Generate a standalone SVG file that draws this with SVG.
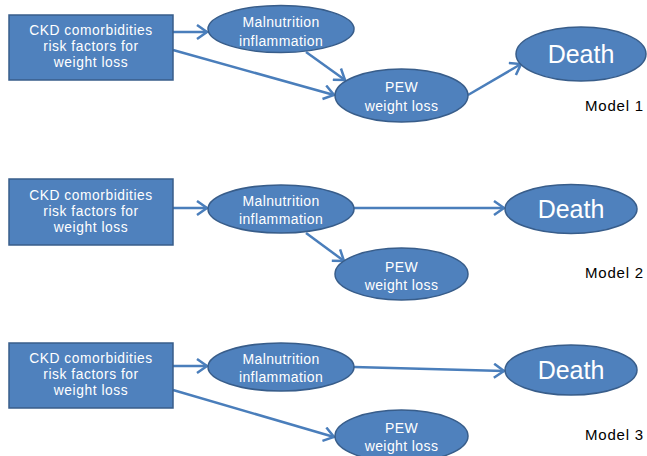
<svg xmlns="http://www.w3.org/2000/svg" width="647" height="456" viewBox="0 0 647 456">
<defs>
<marker id="ah" markerUnits="userSpaceOnUse" markerWidth="14" markerHeight="18" refX="11" refY="8" orient="auto">
<path d="M1,1 L11,8 L1,15" fill="none" stroke="#4A7EBB" stroke-width="2.5" stroke-linejoin="miter"/>
</marker>
</defs>
<style>
.box{fill:#4F81BD;stroke:#385D8A;stroke-width:1.5}
.el{fill:#4F81BD;stroke:#385D8A;stroke-width:1.5}
.t{font-family:"Liberation Sans",Arial,sans-serif;fill:#fff;text-anchor:middle}
.bt{font-size:13.8px;letter-spacing:0.55px}
.mt{font-size:14px;letter-spacing:0.4px}
.dt{font-size:25px}
.lbl{font-family:"Liberation Sans",Arial,sans-serif;font-size:15px;letter-spacing:0.8px;fill:#000}
.c{fill:none;stroke:#4A7EBB;stroke-width:2.5;marker-end:url(#ah)}
</style>
<rect width="647" height="456" fill="#fff"/>
<g id="connectors">
<line class="c" x1="173" y1="32" x2="207" y2="32"/>
<line class="c" x1="173" y1="50" x2="334" y2="95"/>
<line class="c" x1="306" y1="52" x2="345" y2="80"/>
<line class="c" x1="468" y1="95" x2="521" y2="64"/>
<line class="c" x1="173" y1="208" x2="207" y2="208"/>
<line class="c" x1="354" y1="208" x2="504" y2="208"/>
<line class="c" x1="306" y1="233" x2="344" y2="261"/>
<line class="c" x1="173" y1="366" x2="207" y2="366"/>
<line class="c" x1="354" y1="367" x2="504" y2="371"/>
<line class="c" x1="173" y1="390" x2="334" y2="437"/>
</g>
<g id="m1-ckd"><rect class="box" x="9" y="15" width="164" height="65"/>
<text class="t bt" x="91" y="35">CKD comorbidities</text><text class="t bt" x="91" y="51">risk factors for</text><text class="t bt" x="91" y="67">weight loss</text></g>
<g id="m1-mal"><ellipse class="el" cx="281" cy="29" rx="73" ry="23.5"/>
<text class="t mt" x="281" y="27">Malnutrition</text><text class="t mt" x="281" y="46">inflammation</text></g>
<g id="m1-pew"><ellipse class="el" cx="401.5" cy="95.5" rx="66.5" ry="26.5"/>
<text class="t mt" x="401.5" y="92">PEW</text><text class="t mt" x="401.5" y="111">weight loss</text></g>
<g id="m1-death"><ellipse class="el" cx="581" cy="54" rx="65" ry="27"/>
<text class="t dt" x="581" y="63">Death</text></g>
<g id="m1-label"><text class="lbl" x="585" y="111">Model 1</text></g>

<g id="m2-ckd"><rect class="box" x="9" y="179" width="164" height="66"/>
<text class="t bt" x="91" y="200">CKD comorbidities</text><text class="t bt" x="91" y="216">risk factors for</text><text class="t bt" x="91" y="232">weight loss</text></g>
<g id="m2-mal"><ellipse class="el" cx="281" cy="209" rx="73" ry="24"/>
<text class="t mt" x="281" y="206">Malnutrition</text><text class="t mt" x="281" y="224">inflammation</text></g>
<g id="m2-pew"><ellipse class="el" cx="401.5" cy="274" rx="66.5" ry="26"/>
<text class="t mt" x="401.5" y="272">PEW</text><text class="t mt" x="401.5" y="290">weight loss</text></g>
<g id="m2-death"><ellipse class="el" cx="571" cy="209" rx="66" ry="24.5"/>
<text class="t dt" x="571" y="218">Death</text></g>
<g id="m2-label"><text class="lbl" x="585" y="278">Model 2</text></g>

<g id="m3-ckd"><rect class="box" x="9" y="343" width="164" height="65"/>
<text class="t bt" x="91" y="363">CKD comorbidities</text><text class="t bt" x="91" y="379">risk factors for</text><text class="t bt" x="91" y="395">weight loss</text></g>
<g id="m3-mal"><ellipse class="el" cx="281" cy="367" rx="73" ry="24"/>
<text class="t mt" x="281" y="364">Malnutrition</text><text class="t mt" x="281" y="382">inflammation</text></g>
<g id="m3-pew"><ellipse class="el" cx="401.5" cy="436" rx="66.5" ry="26"/>
<text class="t mt" x="401.5" y="433">PEW</text><text class="t mt" x="401.5" y="451">weight loss</text></g>
<g id="m3-death"><ellipse class="el" cx="571" cy="370" rx="66" ry="25"/>
<text class="t dt" x="571" y="379">Death</text></g>
<g id="m3-label"><text class="lbl" x="585" y="440">Model 3</text></g>
</svg>
